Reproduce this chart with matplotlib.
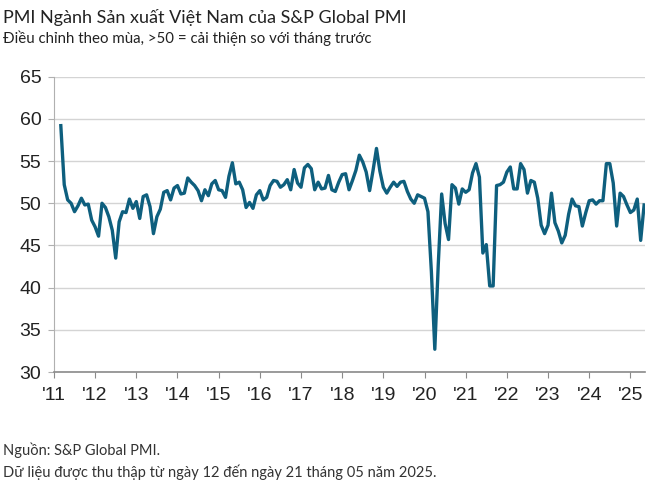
import numpy as np
import matplotlib
matplotlib.use('Agg')
import matplotlib.pyplot as plt

# monthly PMI, Mar 2011 .. May 2025
pmi_2011 = [59.2, 52.2, 50.4, 50.0, 49.0, 49.7, 50.6, 49.8, 49.9, 48.0]  # Mar-Dec
pmi_2012 = [47.2, 46.1, 50.0, 49.5, 48.4, 46.8, 43.5, 47.8, 49.0, 48.9, 50.5, 49.4]
pmi_2013 = [50.2, 48.2, 50.8, 51.0, 49.6, 46.4, 48.4, 49.3, 51.3, 51.5, 50.4, 51.8]
pmi_2014 = [52.1, 51.1, 51.2, 53.0, 52.5, 52.1, 51.5, 50.3, 51.6, 50.9, 52.3, 52.7]
pmi_2015 = [51.6, 51.5, 50.7, 53.2, 54.8, 52.3, 52.5, 51.6, 49.5, 50.1, 49.4, 51.0]
pmi_2016 = [51.5, 50.4, 50.7, 52.1, 52.7, 52.6, 51.9, 52.2, 52.8, 51.6, 54.0, 52.4]
pmi_2017 = [51.9, 54.2, 54.6, 54.1, 51.6, 52.5, 51.7, 51.8, 53.3, 51.6, 51.4, 52.5]
pmi_2018 = [53.4, 53.5, 51.6, 52.7, 53.9, 55.7, 54.9, 53.7, 51.5, 53.9, 56.5, 53.8]
pmi_2019 = [51.9, 51.2, 51.9, 52.5, 52.0, 52.5, 52.6, 51.4, 50.5, 50.0, 51.0, 50.8]
pmi_2020 = [50.6, 49.0, 41.9, 32.7, 42.7, 51.1, 47.6, 45.7, 52.2, 51.8, 49.9, 51.7]
pmi_2021 = [51.3, 51.6, 53.6, 54.7, 53.1, 44.1, 45.1, 40.2, 40.2, 52.1, 52.2, 52.5]
pmi_2022 = [53.7, 54.3, 51.7, 51.7, 54.7, 54.0, 51.2, 52.7, 52.5, 50.6, 47.4, 46.4]
pmi_2023 = [47.4, 51.2, 47.7, 46.7, 45.3, 46.2, 48.7, 50.5, 49.7, 49.6, 47.3, 48.9]
pmi_2024 = [50.3, 50.4, 49.9, 50.3, 50.3, 54.7, 54.7, 52.4, 47.3, 51.2, 50.8, 49.8]
pmi_2025 = [48.9, 49.2, 50.5, 45.6, 49.8]  # Jan-May

values = (pmi_2011 + pmi_2012 + pmi_2013 + pmi_2014 + pmi_2015 + pmi_2016 +
          pmi_2017 + pmi_2018 + pmi_2019 + pmi_2020 + pmi_2021 + pmi_2022 +
          pmi_2023 + pmi_2024 + pmi_2025)
dates = 2011 + (2 + np.arange(len(values))) / 12.0

years = list(range(2011, 2026))
year_labels = ["'%02d" % (y % 100) for y in years]
y_ticks = [30, 35, 40, 45, 50, 55, 60, 65]

line_color = '#0e5f7e'
text_font = ['Lato', 'DejaVu Sans']
tick_font = ['Liberation Sans', 'DejaVu Sans']

fig = plt.figure(figsize=(6.5, 4.84), dpi=100)
ax = fig.add_axes([0.083, 0.2314, 0.909, 0.6101])

ax.plot(dates, values, color=line_color, lw=2.4, solid_joinstyle='round')

ax.set_xlim(2011, 2025.35)
ax.set_ylim(30, 65)
ax.set_xticks(years)
ax.set_xticklabels(year_labels)
ax.set_yticks(y_ticks)

ax.grid(True, axis='y', color='#d4d4d4', lw=1)
ax.set_axisbelow(True)
for s in ['top', 'right']:
    ax.spines[s].set_visible(False)
ax.spines['left'].set_color('#b0b0b0')
ax.spines['bottom'].set_color('#8a8a8a')
ax.spines['bottom'].set_linewidth(1.2)
ax.tick_params(axis='x', length=4, color='#8a8a8a', pad=7)
ax.tick_params(axis='y', length=4, color='#b0b0b0', pad=5)
for lab in ax.get_xticklabels() + ax.get_yticklabels():
    lab.set_family(tick_font)
    lab.set_fontsize(14)
    lab.set_color('#222222')

fig.text(0.005, 0.952, 'PMI Ngành Sản xuất Việt Nam của S&P Global PMI',
         family=text_font, fontsize=13, color='#222222')
fig.text(0.005, 0.912, 'Điều chỉnh theo mùa, >50 = cải thiện so với tháng trước',
         family=text_font, fontsize=10.8, color='#222222')
fig.text(0.005, 0.060, 'Nguồn: S&P Global PMI.',
         family=text_font, fontsize=10.5, color='#333333')
fig.text(0.005, 0.0145, 'Dữ liệu được thu thập từ ngày 12 đến ngày 21 tháng 05 năm 2025.',
         family=text_font, fontsize=10.5, color='#333333')

fig.savefig('out.png', dpi=100)
